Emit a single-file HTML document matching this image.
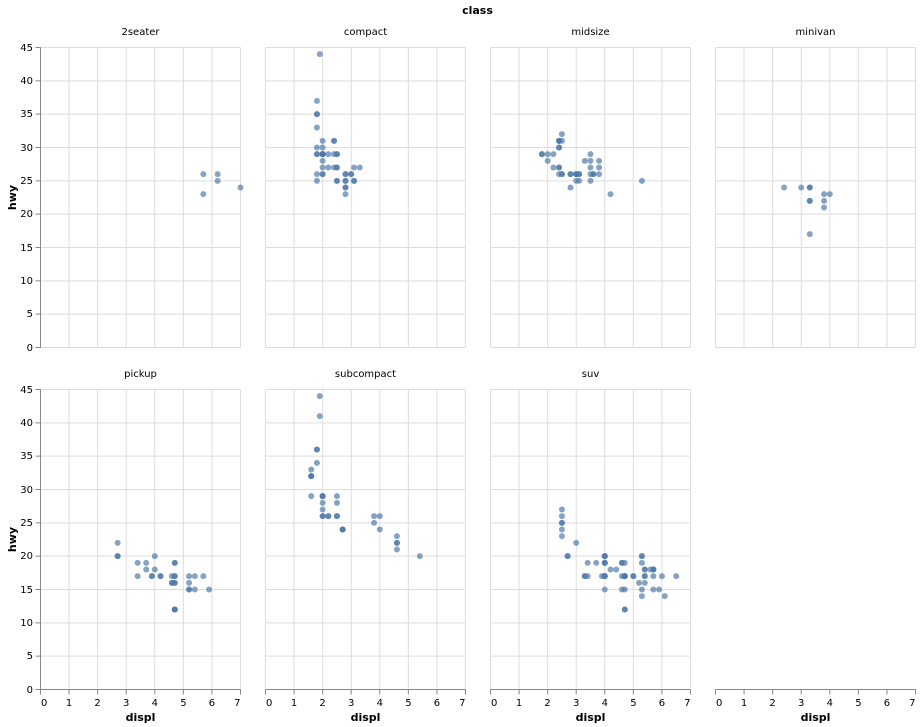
<!DOCTYPE html>
<html>
<head>
<meta charset="utf-8">
<style>
html,body{margin:0;padding:0;background:#fff;}
svg{display:block;}
text{font-family:"DejaVu Sans","Liberation Sans",sans-serif;fill:#000;}
.lab{font-size:10px;}
.ttl{font-size:11px;font-weight:bold;}
.pts circle{fill:#4c78a8;fill-opacity:0.68;}
.grid{fill:none;stroke:#ddd;stroke-width:1;}
.dom{fill:none;stroke:#888;stroke-width:1;}
</style>
</head>
<body>
<svg width="921" height="727" viewBox="0 0 921 727" xmlns="http://www.w3.org/2000/svg">
<defs>
<path id="grid" class="grid" d="M0 0V300M28.57 0V300M57.14 0V300M85.71 0V300M114.29 0V300M142.86 0V300M171.43 0V300M200 0V300M0 0H200M0 33.33H200M0 66.67H200M0 100H200M0 133.33H200M0 166.67H200M0 200H200M0 233.33H200M0 266.67H200M0 300H200"/>
<path id="yax" class="dom" d="M0 0V300M-5 0H0M-5 33.33H0M-5 66.67H0M-5 100H0M-5 133.33H0M-5 166.67H0M-5 200H0M-5 233.33H0M-5 266.67H0M-5 300H0"/>
<path id="xax" class="dom" d="M0 0H200M0 0V5M28.57 0V5M57.14 0V5M85.71 0V5M114.29 0V5M142.86 0V5M171.43 0V5M200 0V5"/>
</defs>
<use href="#grid" x="40.5" y="47.5"/>
<use href="#grid" x="265.5" y="47.5"/>
<use href="#grid" x="490.5" y="47.5"/>
<use href="#grid" x="715.5" y="47.5"/>
<use href="#grid" x="40.5" y="389.5"/>
<use href="#grid" x="265.5" y="389.5"/>
<use href="#grid" x="490.5" y="389.5"/>
<use href="#yax" x="40.5" y="47.5"/>
<use href="#yax" x="40.5" y="389.5"/>
<use href="#xax" x="40.5" y="689.5"/>
<use href="#xax" x="265.5" y="689.5"/>
<use href="#xax" x="490.5" y="689.5"/>
<use href="#xax" x="715.5" y="689.5"/>
<text class="ttl" x="477.5" y="14" text-anchor="middle">class</text>
<text class="lab" x="140.5" y="35" text-anchor="middle">2seater</text>
<text class="lab" x="365.5" y="35" text-anchor="middle">compact</text>
<text class="lab" x="590.5" y="35" text-anchor="middle">midsize</text>
<text class="lab" x="815.5" y="35" text-anchor="middle">minivan</text>
<text class="lab" x="140.5" y="377" text-anchor="middle">pickup</text>
<text class="lab" x="365.5" y="377" text-anchor="middle">subcompact</text>
<text class="lab" x="590.5" y="377" text-anchor="middle">suv</text>
<g class="lab" text-anchor="end">
<text x="33" y="51">45</text><text x="33" y="84">40</text><text x="33" y="117">35</text><text x="33" y="151">30</text><text x="33" y="184">25</text><text x="33" y="217">20</text><text x="33" y="251">15</text><text x="33" y="284">10</text><text x="33" y="317">5</text><text x="33" y="351">0</text>
<text x="33" y="393">45</text><text x="33" y="426">40</text><text x="33" y="459">35</text><text x="33" y="493">30</text><text x="33" y="526">25</text><text x="33" y="559">20</text><text x="33" y="593">15</text><text x="33" y="626">10</text><text x="33" y="659">5</text><text x="33" y="693">0</text>
</g>
<text class="ttl" transform="translate(16,197.5) rotate(-90)" text-anchor="middle">hwy</text>
<text class="ttl" transform="translate(16,539.5) rotate(-90)" text-anchor="middle">hwy</text>
<g class="lab" text-anchor="middle">
<text x="41" y="706" text-anchor="start">0</text><text x="69.1" y="706">1</text><text x="97.6" y="706">2</text><text x="126.2" y="706">3</text><text x="154.8" y="706">4</text><text x="183.4" y="706">5</text><text x="211.9" y="706">6</text><text x="240.5" y="706" text-anchor="end">7</text>
<text x="266" y="706" text-anchor="start">0</text><text x="294.1" y="706">1</text><text x="322.6" y="706">2</text><text x="351.2" y="706">3</text><text x="379.8" y="706">4</text><text x="408.4" y="706">5</text><text x="436.9" y="706">6</text><text x="465.5" y="706" text-anchor="end">7</text>
<text x="491" y="706" text-anchor="start">0</text><text x="519.1" y="706">1</text><text x="547.6" y="706">2</text><text x="576.2" y="706">3</text><text x="604.8" y="706">4</text><text x="633.4" y="706">5</text><text x="661.9" y="706">6</text><text x="690.5" y="706" text-anchor="end">7</text>
<text x="716" y="706" text-anchor="start">0</text><text x="744.1" y="706">1</text><text x="772.6" y="706">2</text><text x="801.2" y="706">3</text><text x="829.8" y="706">4</text><text x="858.4" y="706">5</text><text x="886.9" y="706">6</text><text x="915.5" y="706" text-anchor="end">7</text>
</g>
<text class="ttl" x="140.5" y="721" text-anchor="middle">displ</text>
<text class="ttl" x="365.5" y="721" text-anchor="middle">displ</text>
<text class="ttl" x="590.5" y="721" text-anchor="middle">displ</text>
<text class="ttl" x="815.5" y="721" text-anchor="middle">displ</text>
<g class="pts" transform="translate(40.5,347.5)">
<circle cx="162.86" cy="-173.33" r="3"/><circle cx="162.86" cy="-153.33" r="3"/><circle cx="177.14" cy="-173.33" r="3"/><circle cx="177.14" cy="-166.67" r="3"/><circle cx="200" cy="-160" r="3"/>
</g>
<g class="pts" transform="translate(265.5,347.5)">
<circle cx="51.43" cy="-193.33" r="3"/><circle cx="51.43" cy="-193.33" r="3"/><circle cx="57.14" cy="-206.67" r="3"/><circle cx="57.14" cy="-200" r="3"/><circle cx="80" cy="-173.33" r="3"/><circle cx="80" cy="-173.33" r="3"/><circle cx="88.57" cy="-180" r="3"/><circle cx="51.43" cy="-173.33" r="3"/><circle cx="51.43" cy="-166.67" r="3"/><circle cx="57.14" cy="-186.67" r="3"/><circle cx="57.14" cy="-180" r="3"/><circle cx="80" cy="-166.67" r="3"/><circle cx="80" cy="-166.67" r="3"/><circle cx="88.57" cy="-166.67" r="3"/><circle cx="88.57" cy="-166.67" r="3"/><circle cx="68.57" cy="-193.33" r="3"/><circle cx="68.57" cy="-180" r="3"/><circle cx="71.43" cy="-166.67" r="3"/><circle cx="71.43" cy="-166.67" r="3"/><circle cx="71.43" cy="-180" r="3"/><circle cx="71.43" cy="-180" r="3"/><circle cx="62.86" cy="-180" r="3"/><circle cx="62.86" cy="-193.33" r="3"/><circle cx="68.57" cy="-206.67" r="3"/><circle cx="68.57" cy="-206.67" r="3"/><circle cx="85.71" cy="-173.33" r="3"/><circle cx="85.71" cy="-173.33" r="3"/><circle cx="94.29" cy="-180" r="3"/><circle cx="51.43" cy="-200" r="3"/><circle cx="51.43" cy="-220" r="3"/><circle cx="51.43" cy="-233.33" r="3"/><circle cx="51.43" cy="-233.33" r="3"/><circle cx="51.43" cy="-246.67" r="3"/><circle cx="57.14" cy="-193.33" r="3"/><circle cx="57.14" cy="-193.33" r="3"/><circle cx="57.14" cy="-193.33" r="3"/><circle cx="57.14" cy="-173.33" r="3"/><circle cx="80" cy="-160" r="3"/><circle cx="54.29" cy="-293.33" r="3"/><circle cx="57.14" cy="-193.33" r="3"/><circle cx="57.14" cy="-193.33" r="3"/><circle cx="57.14" cy="-193.33" r="3"/><circle cx="57.14" cy="-173.33" r="3"/><circle cx="71.43" cy="-193.33" r="3"/><circle cx="71.43" cy="-193.33" r="3"/><circle cx="80" cy="-153.33" r="3"/><circle cx="80" cy="-160" r="3"/>
</g>
<g class="pts" transform="translate(490.5,347.5)">
<circle cx="80" cy="-160" r="3"/><circle cx="88.57" cy="-166.67" r="3"/><circle cx="120" cy="-153.33" r="3"/><circle cx="68.57" cy="-180" r="3"/><circle cx="68.57" cy="-200" r="3"/><circle cx="88.57" cy="-173.33" r="3"/><circle cx="100" cy="-193.33" r="3"/><circle cx="102.86" cy="-173.33" r="3"/><circle cx="68.57" cy="-173.33" r="3"/><circle cx="68.57" cy="-180" r="3"/><circle cx="68.57" cy="-200" r="3"/><circle cx="68.57" cy="-206.67" r="3"/><circle cx="71.43" cy="-173.33" r="3"/><circle cx="71.43" cy="-173.33" r="3"/><circle cx="94.29" cy="-186.67" r="3"/><circle cx="71.43" cy="-206.67" r="3"/><circle cx="71.43" cy="-213.33" r="3"/><circle cx="100" cy="-180" r="3"/><circle cx="100" cy="-173.33" r="3"/><circle cx="85.71" cy="-173.33" r="3"/><circle cx="85.71" cy="-166.67" r="3"/><circle cx="100" cy="-166.67" r="3"/><circle cx="88.57" cy="-173.33" r="3"/><circle cx="108.57" cy="-173.33" r="3"/><circle cx="108.57" cy="-180" r="3"/><circle cx="108.57" cy="-186.67" r="3"/><circle cx="151.43" cy="-166.67" r="3"/><circle cx="62.86" cy="-193.33" r="3"/><circle cx="62.86" cy="-180" r="3"/><circle cx="68.57" cy="-206.67" r="3"/><circle cx="68.57" cy="-206.67" r="3"/><circle cx="85.71" cy="-173.33" r="3"/><circle cx="85.71" cy="-173.33" r="3"/><circle cx="100" cy="-186.67" r="3"/><circle cx="51.43" cy="-193.33" r="3"/><circle cx="51.43" cy="-193.33" r="3"/><circle cx="57.14" cy="-186.67" r="3"/><circle cx="57.14" cy="-193.33" r="3"/><circle cx="80" cy="-173.33" r="3"/><circle cx="80" cy="-173.33" r="3"/><circle cx="102.86" cy="-173.33" r="3"/>
</g>
<g class="pts" transform="translate(715.5,347.5)">
<circle cx="68.57" cy="-160" r="3"/><circle cx="85.71" cy="-160" r="3"/><circle cx="94.29" cy="-146.67" r="3"/><circle cx="94.29" cy="-146.67" r="3"/><circle cx="94.29" cy="-160" r="3"/><circle cx="94.29" cy="-160" r="3"/><circle cx="94.29" cy="-113.33" r="3"/><circle cx="108.57" cy="-146.67" r="3"/><circle cx="108.57" cy="-140" r="3"/><circle cx="108.57" cy="-153.33" r="3"/><circle cx="114.29" cy="-153.33" r="3"/>
</g>
<g class="pts" transform="translate(40.5,689.5)">
<circle cx="105.71" cy="-126.67" r="3"/><circle cx="105.71" cy="-120" r="3"/><circle cx="111.43" cy="-113.33" r="3"/><circle cx="111.43" cy="-113.33" r="3"/><circle cx="134.29" cy="-126.67" r="3"/><circle cx="134.29" cy="-126.67" r="3"/><circle cx="134.29" cy="-80" r="3"/><circle cx="134.29" cy="-80" r="3"/><circle cx="134.29" cy="-80" r="3"/><circle cx="148.57" cy="-113.33" r="3"/><circle cx="148.57" cy="-100" r="3"/><circle cx="148.57" cy="-100" r="3"/><circle cx="134.29" cy="-106.67" r="3"/><circle cx="134.29" cy="-106.67" r="3"/><circle cx="134.29" cy="-113.33" r="3"/><circle cx="134.29" cy="-113.33" r="3"/><circle cx="148.57" cy="-106.67" r="3"/><circle cx="162.86" cy="-113.33" r="3"/><circle cx="168.57" cy="-100" r="3"/><circle cx="120" cy="-113.33" r="3"/><circle cx="120" cy="-113.33" r="3"/><circle cx="131.43" cy="-106.67" r="3"/><circle cx="131.43" cy="-106.67" r="3"/><circle cx="131.43" cy="-113.33" r="3"/><circle cx="154.29" cy="-100" r="3"/><circle cx="154.29" cy="-113.33" r="3"/><circle cx="77.14" cy="-133.33" r="3"/><circle cx="77.14" cy="-133.33" r="3"/><circle cx="77.14" cy="-146.67" r="3"/><circle cx="97.14" cy="-113.33" r="3"/><circle cx="97.14" cy="-126.67" r="3"/><circle cx="114.29" cy="-120" r="3"/><circle cx="114.29" cy="-133.33" r="3"/>
</g>
<g class="pts" transform="translate(265.5,689.5)">
<circle cx="108.57" cy="-173.33" r="3"/><circle cx="108.57" cy="-166.67" r="3"/><circle cx="114.29" cy="-173.33" r="3"/><circle cx="114.29" cy="-160" r="3"/><circle cx="131.43" cy="-140" r="3"/><circle cx="131.43" cy="-146.67" r="3"/><circle cx="131.43" cy="-146.67" r="3"/><circle cx="131.43" cy="-153.33" r="3"/><circle cx="154.29" cy="-133.33" r="3"/><circle cx="45.71" cy="-220" r="3"/><circle cx="45.71" cy="-213.33" r="3"/><circle cx="45.71" cy="-213.33" r="3"/><circle cx="45.71" cy="-213.33" r="3"/><circle cx="45.71" cy="-193.33" r="3"/><circle cx="51.43" cy="-226.67" r="3"/><circle cx="51.43" cy="-240" r="3"/><circle cx="51.43" cy="-240" r="3"/><circle cx="57.14" cy="-193.33" r="3"/><circle cx="57.14" cy="-173.33" r="3"/><circle cx="57.14" cy="-193.33" r="3"/><circle cx="57.14" cy="-186.67" r="3"/><circle cx="57.14" cy="-180" r="3"/><circle cx="77.14" cy="-160" r="3"/><circle cx="77.14" cy="-160" r="3"/><circle cx="77.14" cy="-160" r="3"/><circle cx="62.86" cy="-173.33" r="3"/><circle cx="62.86" cy="-173.33" r="3"/><circle cx="71.43" cy="-173.33" r="3"/><circle cx="71.43" cy="-173.33" r="3"/><circle cx="54.29" cy="-293.33" r="3"/><circle cx="54.29" cy="-273.33" r="3"/><circle cx="57.14" cy="-193.33" r="3"/><circle cx="57.14" cy="-173.33" r="3"/><circle cx="71.43" cy="-186.67" r="3"/><circle cx="71.43" cy="-193.33" r="3"/>
</g>
<g class="pts" transform="translate(490.5,689.5)">
<circle cx="151.43" cy="-133.33" r="3"/><circle cx="151.43" cy="-133.33" r="3"/><circle cx="151.43" cy="-100" r="3"/><circle cx="162.86" cy="-113.33" r="3"/><circle cx="171.43" cy="-113.33" r="3"/><circle cx="151.43" cy="-126.67" r="3"/><circle cx="151.43" cy="-93.33" r="3"/><circle cx="162.86" cy="-100" r="3"/><circle cx="185.71" cy="-113.33" r="3"/><circle cx="111.43" cy="-113.33" r="3"/><circle cx="134.29" cy="-113.33" r="3"/><circle cx="134.29" cy="-113.33" r="3"/><circle cx="134.29" cy="-80" r="3"/><circle cx="148.57" cy="-106.67" r="3"/><circle cx="162.86" cy="-120" r="3"/><circle cx="168.57" cy="-100" r="3"/><circle cx="131.43" cy="-113.33" r="3"/><circle cx="154.29" cy="-113.33" r="3"/><circle cx="154.29" cy="-120" r="3"/><circle cx="114.29" cy="-113.33" r="3"/><circle cx="114.29" cy="-113.33" r="3"/><circle cx="114.29" cy="-126.67" r="3"/><circle cx="114.29" cy="-126.67" r="3"/><circle cx="131.43" cy="-126.67" r="3"/><circle cx="142.86" cy="-113.33" r="3"/><circle cx="85.71" cy="-146.67" r="3"/><circle cx="105.71" cy="-126.67" r="3"/><circle cx="114.29" cy="-133.33" r="3"/><circle cx="134.29" cy="-113.33" r="3"/><circle cx="134.29" cy="-80" r="3"/><circle cx="134.29" cy="-126.67" r="3"/><circle cx="162.86" cy="-120" r="3"/><circle cx="174.29" cy="-93.33" r="3"/><circle cx="114.29" cy="-100" r="3"/><circle cx="120" cy="-120" r="3"/><circle cx="125.71" cy="-120" r="3"/><circle cx="131.43" cy="-100" r="3"/><circle cx="154.29" cy="-113.33" r="3"/><circle cx="154.29" cy="-106.67" r="3"/><circle cx="154.29" cy="-120" r="3"/><circle cx="114.29" cy="-113.33" r="3"/><circle cx="114.29" cy="-126.67" r="3"/><circle cx="131.43" cy="-126.67" r="3"/><circle cx="142.86" cy="-113.33" r="3"/><circle cx="94.29" cy="-113.33" r="3"/><circle cx="94.29" cy="-113.33" r="3"/><circle cx="114.29" cy="-133.33" r="3"/><circle cx="160" cy="-120" r="3"/><circle cx="71.43" cy="-166.67" r="3"/><circle cx="71.43" cy="-166.67" r="3"/><circle cx="71.43" cy="-160" r="3"/><circle cx="71.43" cy="-180" r="3"/><circle cx="71.43" cy="-173.33" r="3"/><circle cx="71.43" cy="-153.33" r="3"/><circle cx="77.14" cy="-133.33" r="3"/><circle cx="77.14" cy="-133.33" r="3"/><circle cx="97.14" cy="-126.67" r="3"/><circle cx="97.14" cy="-113.33" r="3"/><circle cx="114.29" cy="-133.33" r="3"/><circle cx="134.29" cy="-113.33" r="3"/><circle cx="134.29" cy="-100" r="3"/><circle cx="162.86" cy="-120" r="3"/>
</g>
</svg>
</body>
</html>
